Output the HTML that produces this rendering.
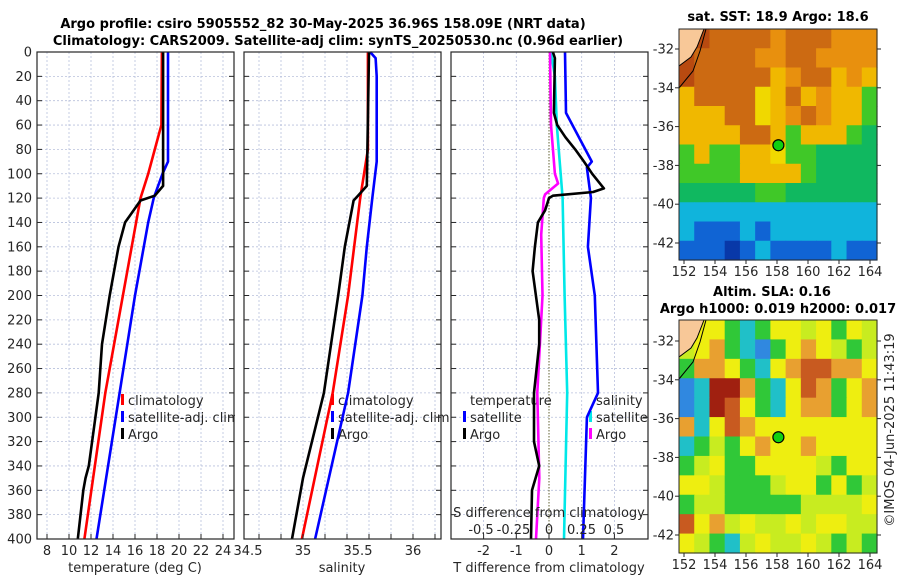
<!DOCTYPE html>
<html><head><meta charset="utf-8"><style>
html,body{margin:0;padding:0;background:#fff;}
svg{display:block;font-family:"DejaVu Sans","Liberation Sans",sans-serif;}
.t{font-size:12.5px;fill:#262626;}
.a{font-size:13px;fill:#262626;}
.b{font-size:13px;font-weight:bold;fill:#000;}
</style></head><body>
<svg id="c" width="900" height="580" viewBox="0 0 900 580" xmlns="http://www.w3.org/2000/svg"></svg>
<script>
// ---------- data ----------
const depthTicks=[0,20,40,60,80,100,120,140,160,180,200,220,240,260,280,300,320,340,360,380,400];
const tempTicks=[8,10,12,14,16,18,20,22,24];
const salTicks=[34.5,35,35.5,36];
const salGrid=[34.6,34.8,35.0,35.2,35.4,35.6,35.8,36.0,36.2];
const tdTicks=[-2,-1,0,1,2];
const sdTicks=[-0.5,-0.25,0,0.25,0.5];
const lonTicks=[152,154,156,158,160,162,164];
const latTicks=[-32,-34,-36,-38,-40,-42];

const tempClimD=[0,60,80,100,120,200,280,400];
const tempClimV=[18.45,18.4,17.8,17.2,16.5,14.9,13.3,11.4];
const tempSatD=[0,90,100,120,140,200,280,400];
const tempSatV=[19.0,19.0,18.5,17.7,17.2,16.0,14.6,12.5];
const tempArgoD=[0,110,118,122,140,160,200,240,280,340,350,360,400];
const tempArgoV=[18.55,18.55,17.8,16.5,15.1,14.5,13.7,13.0,12.7,11.8,11.5,11.3,10.8];

const salClimD=[0,80,120,200,280,400];
const salClimV=[35.59,35.59,35.52,35.41,35.27,34.99];
const salSatD=[0,5,20,90,120,160,200,280,400];
const salSatV=[35.61,35.66,35.67,35.67,35.63,35.58,35.54,35.41,35.11];
const salArgoD=[0,110,118,122,160,200,280,350,400];
const salArgoV=[35.6,35.58,35.5,35.46,35.38,35.32,35.19,35.0,34.9];

const tdSatD=[0,50,90,95,120,160,200,240,280,300,400];
const tdSatV=[0.49,0.52,1.31,1.16,1.28,1.19,1.4,1.45,1.5,1.16,1.04];
const tdArgoD=[0,5,50,60,70,80,90,100,112,115,118,120,130,140,160,180,200,220,240,260,280,320,340,360,400];
const tdArgoV=[0.12,0.18,0.15,0.25,0.5,0.8,1.07,1.32,1.68,1.35,0.12,0,-0.12,-0.34,-0.43,-0.5,-0.4,-0.3,-0.3,-0.38,-0.46,-0.46,-0.3,-0.52,-0.55];
const sdSatD=[0,20,60,120,200,280,400];
const sdSatV=[0.015,0.045,0.06,0.105,0.12,0.14,0.115];
const sdArgoD=[0,60,100,108,117,120,150,200,280,350,400];
const sdArgoV=[0.008,0.015,0.045,0.07,-0.03,-0.04,-0.06,-0.05,-0.09,-0.075,-0.1];

const sstGrid=["LdooooOoooOOO","dooooOOooOOOO","doooooYOooYOY","YooooyYoYOYYg","YYYooyYOoOYYg","YYYYooYgYYYgG","gYggYYyggGGGG","ggggYYYYgGGGG","GGGGGggGGGGGG","ccccccccccccc","cbbbcbccccccc","bbbBbcbbbbcbb"];
const slaGrid=["LYYgcgYYLYgYL","LYogcbgYoYLgL","gooYgcYorrooY","bcddogcYrogYo","bcdrYgcYoogYo","ocYroYYYYYYYY","cgLgYoYYoYYYY","gLYggYYYYLgYY","YYLgggLYYgYgL","gLLgggggLLLLY","rYoLYLLYLYYLL","YLgcLYLLYLgLg"];
const sstColors={L:"#f8c898",d:"#b84a10",o:"#cc6a12",O:"#e8900e",Y:"#f0b800",y:"#f0d800",g:"#40c828",G:"#10b860",c:"#10b4dc",b:"#1064d4",B:"#0838a8"};
const slaColors={L:"#c8ec20",Y:"#eeee10",g:"#30c838",o:"#e8a030",r:"#c85a20",d:"#a02010",c:"#20c0c8",b:"#3088e0"};
const argoLon=158.09, argoLat=-36.96;

// ---------- helpers ----------
const S=document.getElementById('c');
const NS="http://www.w3.org/2000/svg";
function mk(tag,attrs,parent){const e=document.createElementNS(NS,tag);for(const k in attrs)e.setAttribute(k,attrs[k]);(parent||S).appendChild(e);return e;}
function txt(x,y,s,cls,anchor,parent){const e=mk('text',{x:x,y:y,'class':cls,'text-anchor':anchor||'middle'},parent);e.textContent=s;return e;}

const Y0=52,Y1=539;
const yD=d=>Y0+(Y1-Y0)*d/400;
const xT=v=>47+11*(v-8);
const xS=v=>303+110*(v-35);
const xTD=v=>549+32.7*v;
const xSD=v=>549+130*v;
const panels=[{x0:37,x1:234,name:'temperature-panel'},{x0:244,x1:441,name:'salinity-panel'},{x0:451,x1:648,name:'difference-panel'}];

panels.forEach((p,i)=>{
  const g=mk('g',{});
  
  
  mk('rect',{x:p.x0,y:Y0,width:p.x1-p.x0,height:Y1-Y0,fill:'#fff'},g);
  depthTicks.forEach(d=>{if(d>0&&d<400)mk('line',{x1:p.x0,x2:p.x1,y1:yD(d),y2:yD(d),stroke:'#b8c0dc','stroke-width':0.8,'stroke-dasharray':'2,2'},g);});
  let xs=[];
  if(i==0)xs=tempTicks.map(xT);
  if(i==1)xs=salGrid.map(xS);
  if(i==2)xs=tdTicks.filter(v=>v!=0).map(xTD);
  xs.forEach(x=>{if(x>p.x0&&x<p.x1)mk('line',{x1:x,x2:x,y1:Y0,y2:Y1,stroke:'#b8c0dc','stroke-width':0.8,'stroke-dasharray':'2,2'},g);});
  p.xs=i==2?tdTicks.map(xTD):xs;
});
const zl=mk('line',{x1:xTD(0),x2:xTD(0),y1:Y0,y2:Y1,stroke:'#606030','stroke-width':1,'stroke-dasharray':'1.5,1.5'});



function legend(x,y,color,label,nm){
  const g=mk('g',{});
  
  
  if(color)mk('rect',{x:x,y:y-11,width:3,height:11,fill:color},g);
  txt(x+7,y,label,'a','start',g);
}
legend(121,405,'#ff0000','climatology','legend-entry-climatology');
legend(121,422,'#0000ff','satellite-adj. clim','legend-entry-satellite-adj');
legend(121,439,'#000000','Argo','legend-entry-argo');
legend(331,405,'#ff0000','climatology','legend-entry-climatology-sal');
legend(331,422,'#0000ff','satellite-adj. clim','legend-entry-satellite-adj-sal');
legend(331,439,'#000000','Argo','legend-entry-argo-sal');
legend(463,405,null,'temperature','legend-title-temperature');
legend(463,422,'#0000ff','satellite','legend-entry-t-satellite');
legend(463,439,'#000000','Argo','legend-entry-t-argo');
legend(589,405,null,'salinity','legend-title-salinity');
legend(589,422,'#00e8e8','satellite','legend-entry-s-satellite');
legend(589,439,'#ff00ff','Argo','legend-entry-s-argo');
mk('rect',{x:235,y:Y0,width:8,height:Y1-Y0,fill:'#fff'});

function series(D,V,xf,color,nm){
  const pts=D.map((d,k)=>xf(V[k]).toFixed(1)+','+yD(d).toFixed(1)).join(' ');
  const e=mk('polyline',{points:pts,fill:'none',stroke:color,'stroke-width':2.6,'stroke-linejoin':'round'});
  
  
}
series(tempClimD,tempClimV,xT,'#ff0000','temp-climatology-line');
series(tempSatD,tempSatV,xT,'#0000ff','temp-satellite-line');
series(tempArgoD,tempArgoV,xT,'#000000','temp-argo-line');
series(salClimD,salClimV,xS,'#ff0000','sal-climatology-line');
series(salSatD,salSatV,xS,'#0000ff','sal-satellite-line');
series(salArgoD,salArgoV,xS,'#000000','sal-argo-line');
series(sdSatD,sdSatV,xSD,'#00e8e8','sdiff-satellite-line');
series(sdArgoD,sdArgoV,xSD,'#ff00ff','sdiff-argo-line');
series(tdSatD,tdSatV,xTD,'#0000ff','tdiff-satellite-line');
series(tdArgoD,tdArgoV,xTD,'#000000','tdiff-argo-line');

panels.forEach((p,i)=>{
  mk('rect',{x:p.x0,y:Y0,width:p.x1-p.x0,height:Y1-Y0,fill:'none',stroke:'#262626','stroke-width':1.2});
  depthTicks.forEach(d=>{
    mk('line',{x1:p.x0,x2:p.x0+5,y1:yD(d),y2:yD(d),stroke:'#262626','stroke-width':1});
    mk('line',{x1:p.x1-5,x2:p.x1,y1:yD(d),y2:yD(d),stroke:'#262626','stroke-width':1});
  });
  p.xs.forEach(x=>{
    mk('line',{x1:x,x2:x,y1:Y1-5,y2:Y1,stroke:'#262626','stroke-width':1});
  });
});
const yl=mk('g',{});


depthTicks.forEach(d=>txt(32,yD(d)+4.5,String(d),'a','end',yl));
const xl=mk('g',{});


tempTicks.forEach(v=>txt(xT(v),555,String(v),'a','middle',xl));
salTicks.forEach(v=>txt(xS(v),555,String(v),'a','middle',xl));
tdTicks.forEach(v=>txt(xTD(v),555,String(v),'a','middle',xl));
sdTicks.forEach(v=>txt(xSD(v)-(v<0?3:0),534,String(v),'a','middle',xl));
const a1=txt(135,572,'temperature (deg C)','a');
const a2=txt(342,572,'salinity','a');
const a3=txt(549,572,'T difference from climatology','a');
const a4=txt(549,517,'S difference from climatology','a');
const t1=txt(323,28,'Argo profile: csiro 5905552_82 30-May-2025 36.96S 158.09E (NRT data)','b');

const t2=txt(338,45,'Climatology: CARS2009. Satellite-adj clim: synTS_20250530.nc (0.96d earlier)','b');


function map(grid,colors,top,bottom,nm,latRef){
  const L=679,R=877;
  const g=mk('g',{});
  
  
  const rows=grid.length,cols=grid[0].length;
  const cw=(R-L)/cols,ch=(bottom-top)/rows;
  grid.forEach((row,r)=>{for(let c=0;c<cols;c++){
    mk('rect',{x:(L+c*cw).toFixed(2),y:(top+r*ch).toFixed(2),width:(cw+0.6).toFixed(2),height:(ch+0.6).toFixed(2),fill:colors[row[c]]},g);
  }});
  const lon=v=>684+15.5*(v-152);
  const lat=v=>latRef+19.4*(-32-v);
  mk('polygon',{points:`${L},${top} ${L+25},${top} ${L+18},${top+18} ${L+12},${top+28} ${L},${top+37}`,fill:'#f8c898'},g);
  mk('polyline',{points:`${L},${top+37} ${L+12},${top+28} ${L+18},${top+18} ${L+25},${top}`,fill:'none',stroke:'#000','stroke-width':1},g);
  mk('polyline',{points:`${L},${top+59} ${L+14},${top+42} ${L+21},${top+22} ${L+27},${top}`,fill:'none',stroke:'#000','stroke-width':1},g);
  mk('rect',{x:L,y:top,width:R-L,height:bottom-top,fill:'none',stroke:'#262626','stroke-width':1},g);
  lonTicks.forEach(v=>{const x=lon(v);mk('line',{x1:x,x2:x,y1:bottom,y2:bottom+4,stroke:'#262626'},g);txt(x,bottom+16,String(v),'a','middle',g);});
  latTicks.forEach(v=>{const y=lat(v);mk('line',{x1:L-4,x2:L,y1:y,y2:y,stroke:'#262626'},g);mk('line',{x1:R,x2:R+4,y1:y,y2:y,stroke:'#262626'},g);txt(L-5,y+4.5,String(v),'a','end',g);});
  const dot=mk('circle',{cx:lon(argoLon),cy:lat(argoLat),r:5.5,fill:'#10d010',stroke:'#000','stroke-width':1.2},g);
  
  
}
map(sstGrid,sstColors,29,260,'sst-map',49);
map(slaGrid,slaColors,320,553,'sla-map',341);
const m1=txt(778,21,'sat. SST: 18.9 Argo: 18.6','b');
const m2=txt(772,296,'Altim. SLA: 0.16','b');
const m3=txt(778,313,'Argo h1000: 0.019 h2000: 0.017','b');
const cp=txt(0,0,'©IMOS 04-Jun-2025 11:43:19','a','middle');
cp.setAttribute('transform','translate(894,430) rotate(-90)');


</script>
</body></html>
